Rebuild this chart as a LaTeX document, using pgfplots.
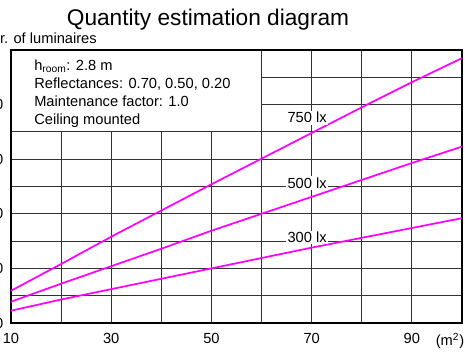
\documentclass[border=0pt]{standalone}
\usepackage{fontspec}
\setmainfont{Liberation Sans}
\usepackage{pgfplots}
\pgfplotsset{compat=1.18}
\definecolor{mag}{RGB}{255,0,255}
\definecolor{gridc}{RGB}{50,50,50}
\pgfplotstableread{
x y
10 5.9
20 10.8
30 15.8
40 20.6
50 25.4
60 30.1
70 34.8
80 39.5
90 44.1
100 48.5
}\tabA
\pgfplotstableread{
x y
10 3.9
20 7.2
30 10.4
40 13.6
50 16.9
60 20.0
70 23.1
80 26.2
90 29.3
100 32.3
}\tabB
\pgfplotstableread{
x y
10 2.25
20 4.3
30 6.2
40 8.1
50 10.0
60 11.9
70 13.8
80 15.6
90 17.4
100 19.2
}\tabC
\begin{document}
\begin{tikzpicture}[font=\fontsize{11}{13}\selectfont]
\begin{axis}[
  name=ax,
  scale only axis, width=338.25pt, height=204.75pt,
  xmin=10, xmax=100, ymin=0, ymax=50,
  xtick={10,30,50,70,90}, minor xtick={20,40,60,80,100},
  ytick={0,10,20,30,40}, minor ytick={5,15,25,35,45,50},
  grid=both,
  major grid style={gridc, line width=0.8pt},
  minor grid style={gridc, line width=0.8pt},
  major tick length=0pt, minor tick length=0pt,
  axis line style={line width=1.5pt},
  /pgf/number format/assume math mode=true,
  tick label style={font=\fontsize{11}{13}\selectfont},
  xticklabel style={yshift=-4.3pt},
  yticklabel style={xshift=-2.3pt},
  clip=false,
]
\fill[white] ([xshift=0.9pt,yshift=0.5pt]axis cs:10,35) rectangle ([xshift=-0.4pt,yshift=-0.8pt]axis cs:60,50);
\addplot[mag, line width=1.3pt] table[x=x,y=y] {\tabA};
\addplot[mag, line width=1.3pt] table[x=x,y=y] {\tabB};
\addplot[mag, line width=1.3pt] table[x=x,y=y] {\tabC};
\node[fill=white, inner sep=1.2pt] at (axis cs:69.1,37.6) {750 lx};
\node[fill=white, inner sep=1.2pt] at (axis cs:69.1,25.6) {500 lx};
\node[fill=white, inner sep=1.2pt] at (axis cs:69.1,15.66) {300 lx};
\node[anchor=north, yshift=-4.3pt, inner sep=0.333em] at (axis cs:97.6,0) {(m\textsuperscript{2})};
\node[anchor=base west, inner sep=0] at ([xshift=17.25pt,yshift=-15pt]rel axis cs:0,1) {h\textsubscript{room}: 2.8 m};
\node[anchor=base west, inner sep=0] at ([xshift=17.25pt,yshift=-28.5pt]rel axis cs:0,1) {Reflectances: 0.70, 0.50, 0.20};
\node[anchor=base west, inner sep=0] at ([xshift=17.25pt,yshift=-42pt]rel axis cs:0,1) {Maintenance factor: 1.0};
\node[anchor=base west, inner sep=0] at ([xshift=17.25pt,yshift=-55.5pt]rel axis cs:0,1) {Ceiling mounted};
\node[anchor=base east, inner sep=0] at ([xshift=64.5pt,yshift=5.25pt]rel axis cs:0,1) {Nr. of luminaires};
\node[anchor=base, inner sep=0, font=\fontsize{17}{20}\selectfont] at ([xshift=147.75pt,yshift=18.75pt]rel axis cs:0,1) {Quantity estimation diagram};
\end{axis}
\pgfresetboundingbox
\path[use as bounding box] ([xshift=-8.25pt,yshift=-21pt]ax.south west) rectangle ([xshift=2.25pt,yshift=37.5pt]ax.north east);
\end{tikzpicture}
\end{document}
